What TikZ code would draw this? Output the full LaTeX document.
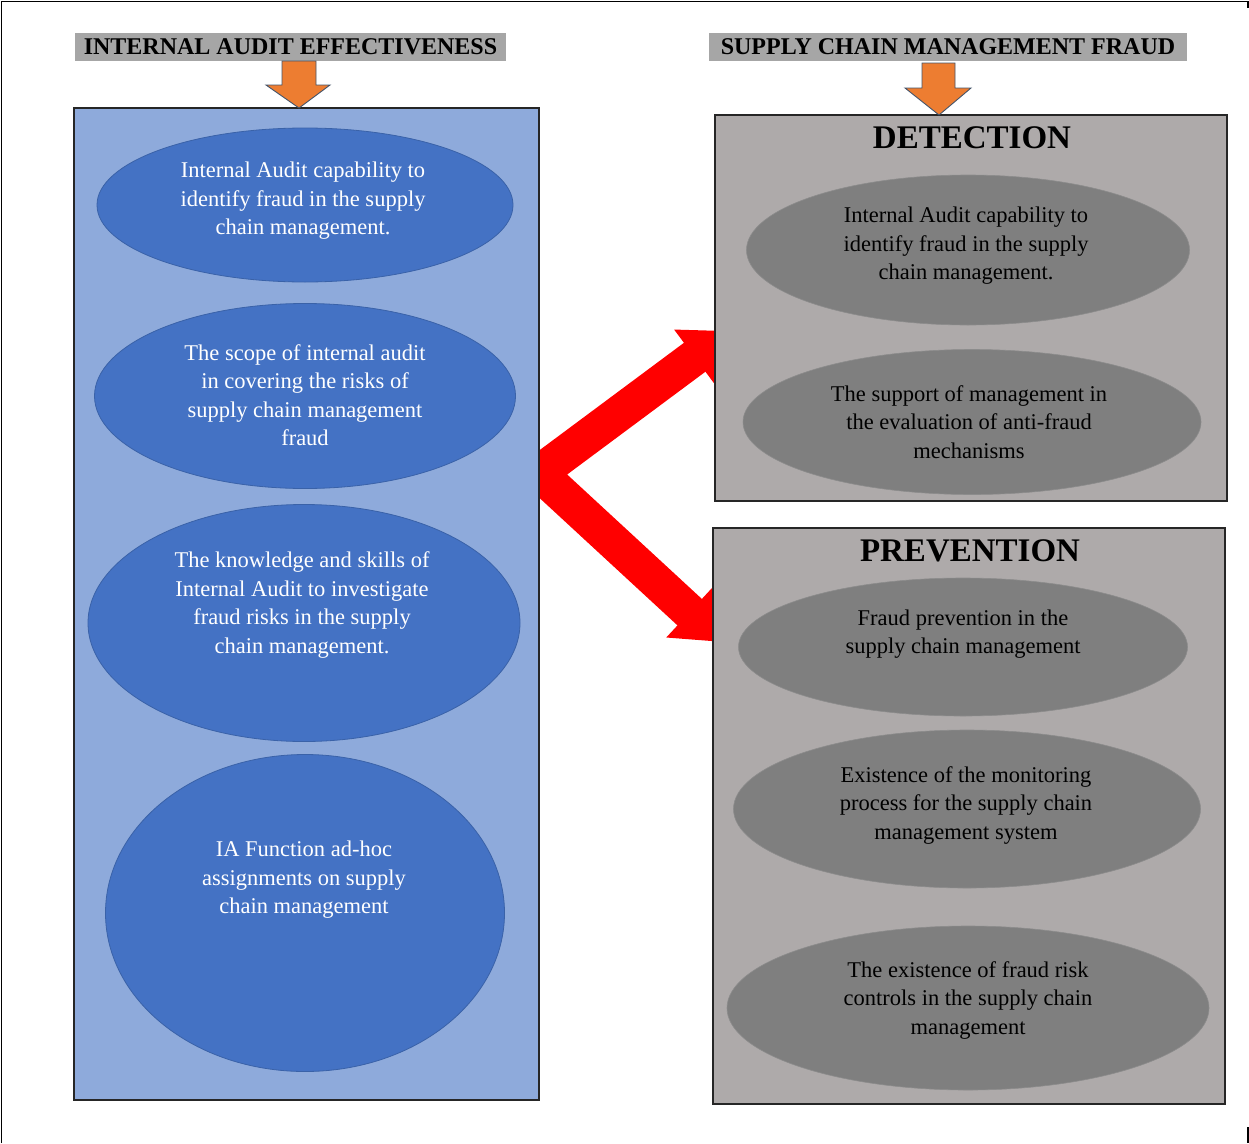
\documentclass[tikz,border=0pt]{standalone}
\usepackage{fontspec}
\setmainfont{Liberation Serif}
\usetikzlibrary{shapes.geometric,arrows.meta}
\definecolor{bluebg}{HTML}{8EAADB}
\definecolor{blueell}{HTML}{4472C4}
\definecolor{blueedge}{HTML}{3A62A8}
\definecolor{graybg}{HTML}{AEAAAA}
\definecolor{grayell}{HTML}{7F7F7F}
\definecolor{headbg}{HTML}{A6A6A6}
\definecolor{orangearr}{HTML}{ED7D31}
\definecolor{arredge}{HTML}{44546A}
\tikzset{
  panel/.style={draw=black!85, line width=1.3pt, inner sep=0},
  blueoval/.style={ellipse, fill=blueell, draw=blueedge, line width=0.8pt, inner sep=0},
  grayoval/.style={ellipse, fill=grayell, draw=grayell!90!white, line width=0.6pt, inner sep=0},
  ovaltext/.style={align=center, inner sep=0, font=\fontsize{22.5}{28.5}\selectfont},
  heading/.style={fill=headbg, inner sep=0, minimum height=28pt, font=\bfseries\fontsize{24}{28}\selectfont},
  boxtitle/.style={inner sep=0, font=\bfseries\fontsize{33}{36}\selectfont},
  downarrow/.style={fill=orangearr, draw=arredge, line width=0.9pt, line join=miter},
  redarrow/.style={draw=red, line width=36pt, line join=miter, {Triangle[width=66pt,length=44pt]}-{Triangle[width=66pt,length=44pt]}}
}
\begin{document}
\begin{tikzpicture}[x={(1pt,0)}, y={(0,-1pt)}]
\useasboundingbox (0,0) rectangle (1249,1143);
% outer frame (partially visible)
\draw[line width=1.5pt] (1.5,1143) -- (1.5,1.5) -- (1248,1.5) -- (1248,8);
\draw[line width=1.2pt] (1248,1127) -- (1248,1143);

% red connector (drawn first; panels cover its ends)
\coordinate (vtx) at (539,473);
\coordinate (detTip) at (730,331);
\coordinate (prevTip) at (722,642);
\draw[redarrow] (detTip) -- (vtx) -- (prevTip);

% headings
\node[heading, minimum width=431pt] (h1) at (290.5,47) {INTERNAL AUDIT EFFECTIVENESS};
\node[heading, minimum width=478pt] (h2) at (948,47) {SUPPLY CHAIN MANAGEMENT FRAUD};

% panels
\node[panel, fill=bluebg, minimum width=465pt, minimum height=992pt] (left) at (306.5,604) {};
\node[panel, fill=graybg, minimum width=512pt, minimum height=386pt] (det) at (971,308) {};
\node[panel, fill=graybg, minimum width=512pt, minimum height=576pt] (prev) at (969,816) {};

% orange arrows
\draw[downarrow] (282,61) -- (316,61) -- (316,85) -- (330,85) -- (299,108) -- (266,85) -- (282,85) -- cycle;
\draw[downarrow] (922,63) -- (955,63) -- (955,88) -- (971,88) -- (939,115) -- (905,88) -- (922,88) -- cycle;

% left ovals
\node[blueoval, minimum width=416pt, minimum height=154pt] (l1) at (305,205) {};
\node[blueoval, minimum width=421pt, minimum height=185pt] (l2) at (305,396) {};
\node[blueoval, minimum width=432pt, minimum height=237pt] (l3) at (304,623) {};
\node[blueoval, minimum width=399pt, minimum height=317pt] (l4) at (305,913) {};
\node[ovaltext, text=white] (tl1) at (303,201) {Internal Audit capability to\\identify fraud in the supply\\chain management.};
\node[ovaltext, text=white] (tl2) at (305,395) {The scope of internal audit\\in covering the risks of\\supply chain management\\fraud};
\node[ovaltext, text=white] (tl3) at (302,605) {The knowledge and skills of\\Internal Audit to investigate\\fraud risks in the supply\\chain management.};
\node[ovaltext, text=white] (tl4) at (304,880) {IA Function ad-hoc\\assignments on supply\\chain management};

% detection
\node[boxtitle] (dt) at (972,138) {DETECTION};
\node[grayoval, minimum width=443pt, minimum height=150pt] (d1) at (968,250) {};
\node[grayoval, minimum width=458pt, minimum height=145pt] (d2) at (972,422) {};
\node[ovaltext] (td1) at (966,246) {Internal Audit capability to\\identify fraud in the supply\\chain management.};
\node[ovaltext] (td2) at (969,422) {The support of management in\\the evaluation of anti-fraud\\mechanisms};

% prevention
\node[boxtitle] (pt) at (970,551) {PREVENTION};
\node[grayoval, minimum width=449pt, minimum height=138pt] (p1) at (963,647) {};
\node[grayoval, minimum width=467pt, minimum height=158pt] (p2) at (967,809) {};
\node[grayoval, minimum width=482pt, minimum height=164pt] (p3) at (968,1008) {};
\node[ovaltext] (tp1) at (963,634) {Fraud prevention in the\\supply chain management};
\node[ovaltext] (tp2) at (966,805) {Existence of the monitoring\\process for the supply chain\\management system};
\node[ovaltext] (tp3) at (968,1000) {The existence of fraud risk\\controls in the supply chain\\management};
\end{tikzpicture}
\end{document}
